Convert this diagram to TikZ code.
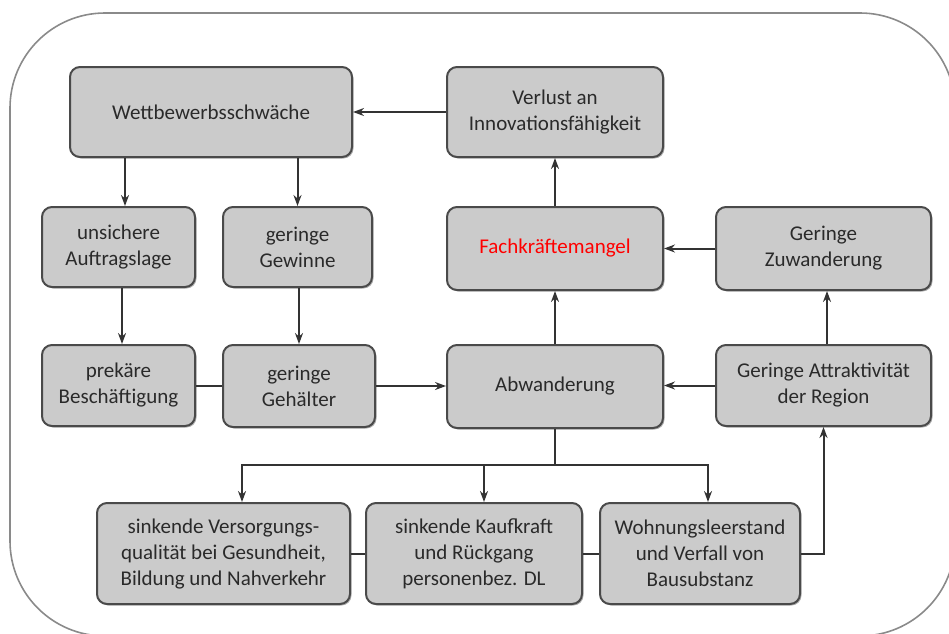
\documentclass[tikz,border=0pt]{standalone}
\usepackage{fontspec}
\setmainfont{Carlito}
\usetikzlibrary{arrows.meta,shadows}
\definecolor{boxfill}{HTML}{CBCBCB}
\definecolor{boxline}{HTML}{4A4A4A}
\definecolor{txt}{HTML}{2A2A2A}
\definecolor{conn}{HTML}{333333}
\definecolor{outerline}{HTML}{8A8A8A}
\begin{document}
\begin{tikzpicture}[x=1pt,y=-1pt,
  box/.style={draw=boxline,line width=2pt,fill=boxfill,rounded corners=10pt,
    align=center,text=txt,inner sep=2pt,
    font=\fontsize{21}{26}\selectfont,
    drop shadow={shadow xshift=1.5pt,shadow yshift=-1.5pt,fill=black,opacity=0.3}},
  conline/.style={draw=conn,line width=2pt},
  arr/.style={conline,-{Stealth[length=11pt,width=8pt]}}]
\useasboundingbox (0,0) rectangle (949,633);
\begin{scope}
\clip (0,0) rectangle (949,633);
\draw[outerline,line width=1.6pt,rounded corners=95pt] (10,13) rectangle (955,636);
\end{scope}

\node[box,minimum width=282pt,minimum height=90pt] (W) at (211,112) {Wettbewerbsschwäche};
\node[box,minimum width=216pt,minimum height=90pt] (V) at (555,112) {Verlust an\\Innovationsfähigkeit};
\node[box,minimum width=153pt,minimum height=80pt] (U) at (118.5,247) {unsichere\\Auftragslage};
\node[box,minimum width=149pt,minimum height=80pt] (GG) at (297.5,247) {geringe\\Gewinne};
\node[box,minimum width=216pt,minimum height=83pt,text=red] (F) at (555,248.5) {Fachkräftemangel};
\node[box,minimum width=215pt,minimum height=83pt] (Z) at (823.5,248.5) {Geringe\\Zuwanderung};
\node[box,minimum width=153pt,minimum height=81pt] (P) at (118.5,385.5) {prekäre\\Beschäftigung};
\node[box,minimum width=152pt,minimum height=82pt] (GH) at (299,386) {geringe\\Gehälter};
\node[box,minimum width=216pt,minimum height=83pt] (A) at (555,386.5) {Abwanderung};
\node[box,minimum width=215pt,minimum height=81pt] (GA) at (823.5,385.5) {Geringe Attraktivität\\der Region};
\node[box,minimum width=253pt,minimum height=101pt] (SV) at (223.5,553.5) {sinkende Versorgungs-\\qualität bei Gesundheit,\\Bildung und Nahverkehr};
\node[box,minimum width=216pt,minimum height=101pt] (SK) at (474,553.5) {sinkende Kaufkraft\\und Rückgang\\personenbez. DL};
\node[box,minimum width=200pt,minimum height=101pt] (WL) at (700,553.5) {Wohnungsleerstand\\und Verfall von\\Bausubstanz};

\coordinate (J) at (557,465);

\draw[arr] (V.west) -- (W.east);
\draw[arr] ([xshift=6.5pt]U.north |- W.south) -- ([xshift=6.5pt]U.north);
\draw[arr] (GG.north |- W.south) -- (GG.north);
\draw[arr] ([xshift=3.5pt]P.north |- U.south) -- ([xshift=3.5pt]P.north);
\draw[arr] (GH.north |- GG.south) -- (GH.north);
\draw[conline] (P.east) -- (P.east -| GH.west);
\draw[arr] (GH.east) -- (GH.east -| A.west);
\draw[arr] (A.north) -- (F.south);
\draw[arr] (F.north) -- (V.south);
\draw[arr] (Z.west) -- (Z.west -| F.east);
\draw[arr] (GA.west) -- (GA.west -| A.east);
\draw[arr] ([xshift=3.5pt]Z.south |- GA.north) -- ([xshift=3.5pt]Z.south);
\draw[conline] (A.south) -- (A.south |- J);
\draw[arr] (A.south |- J) -| ([xshift=18.5pt]SV.north);
\draw[arr] (A.south |- J) -| ([xshift=8pt]WL.north);
\draw[arr] ([xshift=10pt]SK.north |- J) -- ([xshift=10pt]SK.north);
\draw[conline] (SV.east) -- (SK.west);
\draw[conline] (SK.east) -- (WL.west);
\draw[arr] (WL.east) -| (GA.south);
\end{tikzpicture}
\end{document}
